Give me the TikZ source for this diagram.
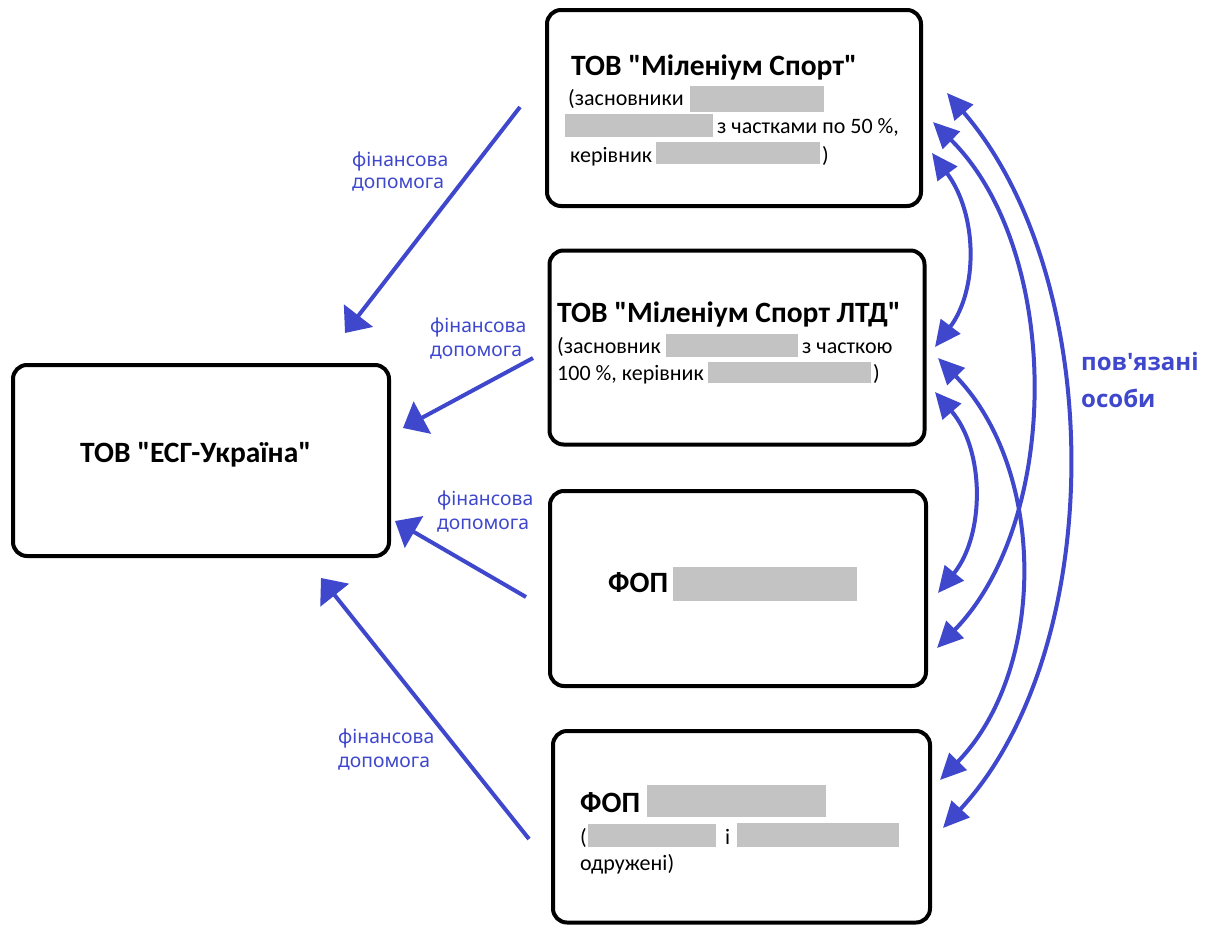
\documentclass[tikz,border=0pt]{standalone}
\usepackage{fontspec}
\setmainfont{Carlito}[Ligatures=TeXOff]
\newfontfamily\lblfont{Noto Sans}
\newfontfamily\relfont{Open Sans}[Ligatures=TeXOff]
\usetikzlibrary{arrows.meta}
\definecolor{pblue}{HTML}{3F48CC}
\definecolor{redact}{HTML}{C3C3C3}
\newcommand{\dq}{\char34\relax}
\tikzset{
  box/.style={draw=black, line width=4pt, rounded corners=14pt, inner sep=0pt},
  bt/.style={anchor=base west, inner sep=0pt, font=\fontsize{29.5}{35}\selectfont\bfseries},
  nt/.style={anchor=base west, inner sep=0pt, font=\fontsize{22}{28}\selectfont},
  lbl/.style={anchor=base west, inner sep=0pt, text=pblue, font=\lblfont\fontsize{19.3}{23}\selectfont},
  rel/.style={anchor=base west, inner sep=0pt, text=pblue, font=\relfont\bfseries\fontsize{24}{30}\selectfont},
  red/.style={fill=redact, draw=none},
  finarrow/.style={draw=pblue, line width=4pt, -{Triangle[length=22pt,width=36pt]}},
  relarrow/.style={draw=pblue, line width=4pt, {Triangle[length=26pt,width=24pt]}-{Triangle[length=26pt,width=24pt]}},
}
\begin{document}
\begin{tikzpicture}[x=1pt,y=-1pt]
\useasboundingbox (0,0) rectangle (1218,926);
\fill[white] (0,0) rectangle (1218,926);
% boxes
\node[box, minimum width=374pt, minimum height=196pt] (A) at (734,108) {};
\node[box, minimum width=375pt, minimum height=194pt] (B) at (737,347.5) {};
\node[box, minimum width=376pt, minimum height=191pt] (E) at (201,460.5) {};
\node[box, minimum width=376pt, minimum height=195pt] (C) at (738,588.5) {};
\node[box, minimum width=377pt, minimum height=191.5pt] (D) at (741.5,826.75) {};
% box A text
\node[bt] (a1) at (571,75) {ТОВ \dq Міленіум Спорт\dq};
\node[nt] (a2) at (568,105) {(засновники};
\fill[red] (690,86) rectangle (824,112);
\fill[red] (565,114) rectangle (713,137);
\node[nt] (a3) at (717,133) {з частками по 50 \%,};
\node[nt] (a4) at (570,162) {керівник};
\fill[red] (656,142) rectangle (820,164);
\node[nt] (a5) at (822,162) {)};
% box B text
\node[bt] (b1) at (557,322) {ТОВ \dq Міленіум Спорт ЛТД\dq};
\node[nt] (b2) at (557,353) {(засновник};
\fill[red] (666,334) rectangle (798,357);
\node[nt] (b3) at (802,353) {з часткою};
\node[nt] (b4) at (557,380) {100 \%, керівник};
\fill[red] (708,362) rectangle (871,383);
\node[nt] (b5) at (873,380) {)};
% box E text
\node[bt] (e1) at (80,462) {ТОВ \dq ЕСГ-Україна\dq};
% box C text
\node[bt] (c1) at (608,592) {ФОП};
\fill[red] (673,567) rectangle (857,601);
% box D text
\node[bt] (d1) at (580,812) {ФОП};
\fill[red] (647,785) rectangle (826,817);
\node[nt] (d2) at (580,844) {(};
\fill[red] (588,824) rectangle (716,847);
\node[nt] (d3) at (725,844) {і};
\fill[red] (737,823) rectangle (899,847);
\node[nt] (d4) at (580,870) {одружені)};
% financial help arrows
\coordinate (f1s) at (520,107); \coordinate (f1e) at (345,333);
\coordinate (f2s) at (533,358); \coordinate (f2e) at (403,428);
\coordinate (f3s) at (526,597); \coordinate (f3e) at (395,521);
\coordinate (f4s) at (529,839); \coordinate (f4e) at (321,578);
\draw[finarrow] (f1s) -- (f1e);
\draw[finarrow] (f2s) -- (f2e);
\draw[finarrow] (f3s) -- (f3e);
\draw[finarrow] (f4s) -- (f4e);
\node[lbl] (l1a) at (352,166) {фінансова};
\node[lbl] (l1b) at (352,188) {допомога};
\node[lbl] (l2a) at (430,332) {фінансова};
\node[lbl] (l2b) at (430,356) {допомога};
\node[lbl] (l3a) at (437,505) {фінансова};
\node[lbl] (l3b) at (437,529) {допомога};
\node[lbl] (l4a) at (338,743) {фінансова};
\node[lbl] (l4b) at (338,767) {допомога};
% related persons arrows
\coordinate (ra1) at (947,93);
\coordinate (ra2) at (933,122);
\coordinate (ra3) at (932,153);
\coordinate (rb1) at (935,347);
\coordinate (rb2) at (938,358);
\coordinate (rb3) at (935,392);
\coordinate (rc1) at (938,593);
\coordinate (rc2) at (937,648);
\coordinate (rd1) at (940,780);
\coordinate (rd2) at (943,828);
\draw[relarrow] (ra3) .. controls (978,215) and (978,290) .. (rb1);
\draw[relarrow] (rb3) .. controls (985,450) and (985,535) .. (rc1);
\draw[relarrow] (ra2) .. controls (1062,250) and (1062,520) .. (rc2);
\draw[relarrow] (rb2) .. controls (1047,470) and (1047,670) .. (rd1);
\draw[relarrow] (ra1) .. controls (1108,280) and (1108,650) .. (rd2);
\node[rel] (rel1) at (1081,370) {пов'язані};
\node[rel] (rel2) at (1081,407) {особи};
\end{tikzpicture}
\end{document}
